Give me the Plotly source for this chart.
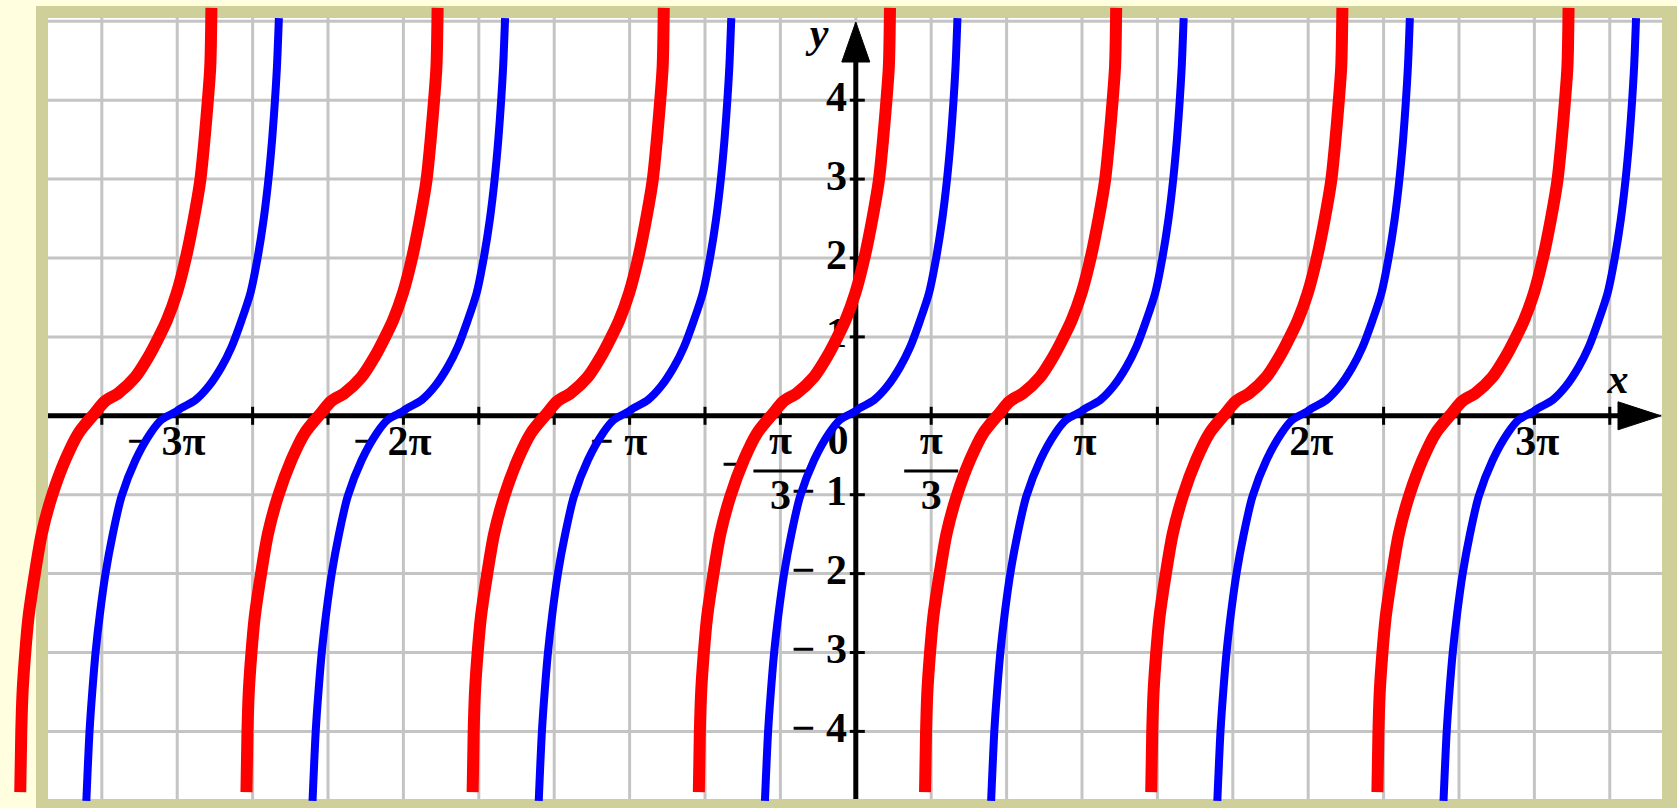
import numpy as np
import plotly.graph_objects as go

PI = np.pi

# one branch of each curve
# dx: radians from the branch zero, y: value
blue_dx = [-1.262, -1.218, -1.180, -1.134, -1.072, -0.996, -0.895, -0.773, -0.579, -0.371, -0.218,
           -0.023, 0.060, 0.254, 0.434, 0.616, 0.754, 0.893, 1.018, 1.116, 1.199, 1.265, 1.318,
           1.357, 1.385, 1.412]
blue_y = [-4.88, -4.00, -3.50, -3.00, -2.50, -2.00, -1.50, -1.02, -0.56, -0.22, -0.05,
          0.05, 0.10, 0.20, 0.37, 0.62, 0.87, 1.21, 1.56, 2.00, 2.48, 2.98, 3.50,
          3.99, 4.42, 5.04]
red_dx = [-1.133, -1.119, -1.101, -1.064, -1.018, -0.935, -0.833, -0.694, -0.508, -0.324, -0.092,
          0.038, 0.232, 0.464, 0.649, 0.788, 0.903, 1.042, 1.167, 1.274, 1.367, 1.426, 1.472,
          1.506, 1.522]
red_y = [-4.77, -4.02, -3.51, -3.01, -2.55, -2.03, -1.49, -1.02, -0.56, -0.22, 0.04,
         0.18, 0.29, 0.49, 0.75, 0.99, 1.21, 1.56, 2.00, 2.48, 2.98, 3.50, 3.99,
         4.42, 5.17]

blue_zeros = [-3 * PI, -2 * PI, -PI, 0, PI, 2 * PI, 3 * PI]
red_zeros = [-10 * PI / 3, -7 * PI / 3, -4 * PI / 3, -PI / 3, 2 * PI / 3, 5 * PI / 3, 8 * PI / 3]

x_grid = [k * PI / 3 for k in range(-10, 11)]
y_grid = [-4, -3, -2, -1, 0, 1, 2, 3, 4, 5]

y_ticks = [-4, -3, -2, -1, 1, 2, 3, 4]
y_tick_text = ["\u2212 4", "\u2212 3", "\u2212 2", "\u2212 1", "1", "2", "3", "4"]

pi_ticks = [-3 * PI, -2 * PI, -PI, PI, 2 * PI, 3 * PI]
pi_tick_text = ["\u2212 3\u03c0", "\u2212 2\u03c0", "\u2212 \u03c0", "\u03c0", "2\u03c0", "3\u03c0"]

frac_ticks = [-PI / 3, PI / 3]
frac_num = ["\u03c0", "\u03c0"]
frac_den = ["3", "3"]

W, H = 1677, 808
X0_PX, PX_PER_X = 855.8, 72.0
Y0_PX, PX_PER_Y = 415.8, 78.9


def xd(px):
    return (px - X0_PX) / PX_PER_X


def yd(py):
    return (Y0_PX - py) / PX_PER_Y


def branches(zeros, dx, ys):
    xs, yv = [], []
    for z in zeros:
        xs += [z + d for d in dx] + [None]
        yv += list(ys) + [None]
    return xs, yv


FONT = dict(family="Liberation Serif, Times New Roman, serif", size=42, color="black", weight="bold")
GRID = dict(color="#C4C4C4", width=3)
BLACK = "black"

shapes = [
    dict(type="rect", xref="paper", yref="paper", x0=36 / W, x1=1, y0=0, y1=1 - 6 / H,
         fillcolor="#CFCF99", line=dict(width=0), layer="below"),
    dict(type="rect", xref="paper", yref="paper", x0=48 / W, x1=1662 / W, y0=1 - 799 / H, y1=1 - 18 / H,
         fillcolor="white", line=dict(width=0), layer="below"),
]
for v in x_grid:
    shapes.append(dict(type="line", xref="x", yref="y", x0=v, x1=v, y0=yd(799), y1=yd(18),
                       line=GRID, layer="below"))
for v in y_grid:
    shapes.append(dict(type="line", xref="x", yref="y", x0=xd(48), x1=xd(1662), y0=v, y1=v,
                       line=GRID, layer="below"))

# axes with arrows
shapes.append(dict(type="line", x0=xd(48), x1=xd(1625), y0=0, y1=0,
                   line=dict(color=BLACK, width=5), layer="below"))
shapes.append(dict(type="line", x0=0, x1=0, y0=yd(799), y1=yd(55),
                   line=dict(color=BLACK, width=5), layer="below"))
shapes.append(dict(type="path", fillcolor=BLACK, line=dict(color=BLACK, width=1), layer="below",
                   path=f"M {xd(1618)},{yd(Y0_PX - 14)} L {xd(1661)},0 L {xd(1618)},{yd(Y0_PX + 14)} Z"))
shapes.append(dict(type="path", fillcolor=BLACK, line=dict(color=BLACK, width=1), layer="below",
                   path=f"M {xd(X0_PX - 14)},{yd(62)} L 0,{yd(22)} L {xd(X0_PX + 14)},{yd(62)} Z"))

# tick marks
for v in x_grid:
    if v != 0:
        shapes.append(dict(type="line", x0=v, x1=v, y0=yd(Y0_PX + 9), y1=yd(Y0_PX - 9),
                           line=dict(color=BLACK, width=3), layer="below"))
for v in y_ticks:
    shapes.append(dict(type="line", x0=xd(X0_PX - 6), x1=xd(X0_PX + 9), y0=v, y1=v,
                       line=dict(color=BLACK, width=3), layer="below"))

# fraction bars
for v in frac_ticks:
    shapes.append(dict(type="line", x0=v - 27 / PX_PER_X, x1=v + 27 / PX_PER_X, y0=yd(471), y1=yd(471),
                       line=dict(color=BLACK, width=3), layer="below"))

fig = go.Figure()

# labels first, so the curves sit on top of them
fig.add_trace(go.Scatter(
    x=[v + (-11 if v < 0 else 3) / PX_PER_X for v in pi_ticks], y=[yd(444)] * len(pi_ticks),
    mode="text", text=pi_tick_text, textposition="middle center", textfont=FONT, hoverinfo="skip"))
fig.add_trace(go.Scatter(
    x=frac_ticks, y=[yd(443)] * len(frac_ticks), mode="text", text=frac_num,
    textposition="middle center", textfont=FONT, hoverinfo="skip"))
fig.add_trace(go.Scatter(
    x=frac_ticks, y=[yd(498)] * len(frac_ticks), mode="text", text=frac_den,
    textposition="middle center", textfont=FONT, hoverinfo="skip"))
fig.add_trace(go.Scatter(
    x=[frac_ticks[0] - 47 / PX_PER_X], y=[yd(467)], mode="text", text=["\u2212"],
    textposition="middle center", textfont=FONT, hoverinfo="skip"))
fig.add_trace(go.Scatter(
    x=[xd(847)] * len(y_ticks), y=y_ticks, mode="text", text=y_tick_text,
    textposition="middle left", textfont=FONT, hoverinfo="skip"))
fig.add_trace(go.Scatter(
    x=[xd(838)], y=[yd(443)], mode="text", text=["0"],
    textposition="middle center", textfont=FONT, hoverinfo="skip"))
fig.add_trace(go.Scatter(
    x=[xd(1618), xd(819)], y=[yd(382), yd(36)], mode="text", text=["x", "y"],
    textposition="middle center", textfont=dict(FONT, style="italic"), hoverinfo="skip"))

bx, by = branches(blue_zeros, blue_dx, blue_y)
fig.add_trace(go.Scatter(x=bx, y=by, mode="lines", line=dict(color="#0000FF", width=8, shape="spline", smoothing=0.8),
                         connectgaps=False, name="blue", hoverinfo="skip"))
rx, ry = branches(red_zeros, red_dx, red_y)
fig.add_trace(go.Scatter(x=rx, y=ry, mode="lines", line=dict(color="#FF0000", width=12, shape="spline", smoothing=0.8),
                         connectgaps=False, name="red", hoverinfo="skip"))

fig.update_layout(
    width=W, height=H,
    margin=dict(l=0, r=0, t=0, b=0, pad=0),
    paper_bgcolor="#FFFFE0",
    plot_bgcolor="rgba(0,0,0,0)",
    showlegend=False,
    shapes=shapes,
    xaxis=dict(range=[xd(0), xd(W)], visible=False, fixedrange=True),
    yaxis=dict(range=[yd(H), yd(0)], visible=False, fixedrange=True),
)

# the page body has a default 8px margin; drop it so the figure sits at the window corner
fig.write_html("out.html", config={"displayModeBar": False},
               post_script="document.body.style.margin='0px';")
